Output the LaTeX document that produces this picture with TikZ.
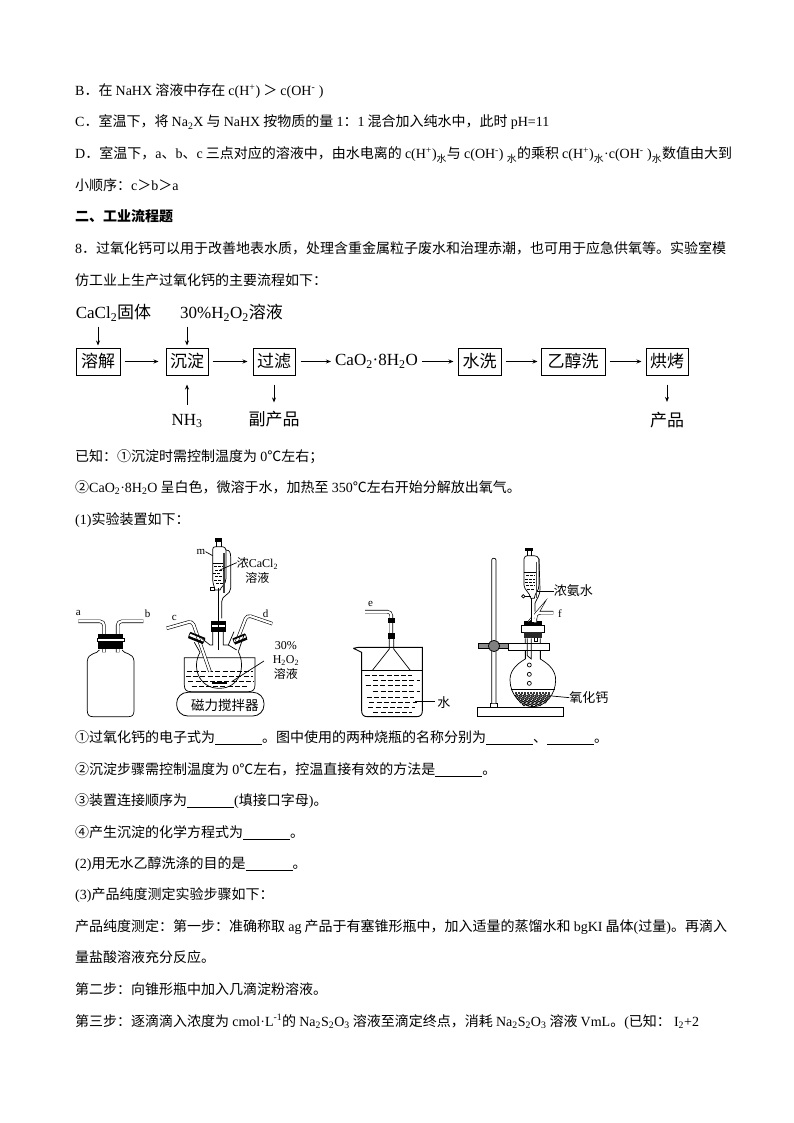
\documentclass[tikz,border=0pt]{standalone}
\usepackage{fontspec}
\setmainfont{Noto Sans CJK SC}
\newfontfamily\latf{Liberation Serif}
\newcommand\ltn[1]{{\latf #1}}
\newcommand\dn[1]{\textsubscript{\latf #1}}
\newcommand\up[1]{\textsuperscript{\latf #1}}
\newcommand\blank[1]{\rule[-2.5pt]{#1pt}{0.7pt}}
\usetikzlibrary{arrows.meta,calc}
\tikzset{
 txt/.style={anchor=base west,inner sep=0pt,font=\fontsize{14}{14}\selectfont},
 boxn/.style={draw,line width=1pt,inner sep=0pt,minimum height=27pt,font=\fontsize{17}{17}\selectfont},
 lab/.style={inner sep=0pt,font=\fontsize{17}{17}\selectfont},
 flow/.style={-{Stealth[length=5pt,width=4pt]},line width=0.8pt},
 small/.style={inner sep=0pt,font=\fontsize{12}{13}\selectfont,align=center},
 tiny/.style={inner sep=0pt,font=\latf\fontsize{11}{11}\selectfont},
 tube/.style={draw=black,double=white,double distance=2.2pt,line width=0.6pt,rounded corners=4pt},
 thin line/.style={line width=0.7pt},
 water/.style={dash pattern=on 5pt off 2.2pt,line width=0.6pt},
}
\begin{document}
\begin{tikzpicture}[x=1pt,y=-1pt]
\useasboundingbox (0,0) rectangle (794,1123);
\fill[white] (0,0) rectangle (794,1123);
% ---- text
\node[txt] (t1) at (75,96) {\ltn{B}．在 \ltn{NaHX} 溶液中存在 \ltn{c(H\up{+})} ＞ \ltn{c(OH\up{-} )}};
\node[txt] (t2) at (75,127) {\ltn{C}．室温下，将 \ltn{Na\dn{2}X} 与 \ltn{NaHX} 按物质的量 \ltn{1}：\ltn{1} 混合加入纯水中，此时 \ltn{pH=11}};
\node[txt] (t3) at (75,159) {\ltn{D}．室温下，\ltn{a}、\ltn{b}、\ltn{c} 三点对应的溶液中，由水电离的 \ltn{c(H\up{+})}\textsubscript{水}与 \ltn{c(OH\up{-})} \textsubscript{水}的乘积 \ltn{c(H\up{+})}\textsubscript{水}\ltn{·c(OH\up{-} )}\textsubscript{水}数值由大到};
\node[txt] (t4) at (75,191) {小顺序：\ltn{c}＞\ltn{b}＞\ltn{a}};
\node[txt,font=\fontsize{14}{14}\selectfont\bfseries] (t5) at (75,222) {二、工业流程题};
\node[txt] (t6) at (75,254) {\ltn{8}．过氧化钙可以用于改善地表水质，处理含重金属粒子废水和治理赤潮，也可用于应急供氧等。实验室模};
\node[txt] (t7) at (75,285) {仿工业上生产过氧化钙的主要流程如下：};
\node[txt] (t8) at (75,461) {已知：①沉淀时需控制温度为 \ltn{0}℃左右；};
\node[txt] (t9) at (75,492) {②\ltn{CaO\dn{2}·8H\dn{2}O} 呈白色，微溶于水，加热至 \ltn{350}℃左右开始分解放出氧气。};
\node[txt] (t10) at (75,524) {\ltn{(1)}实验装置如下：};
\node[txt] (t11) at (75,742) {①过氧化钙的电子式为\blank{47}。图中使用的两种烧瓶的名称分别为\blank{47}、\blank{47}。};
\node[txt] (t12) at (75,774) {②沉淀步骤需控制温度为 \ltn{0}℃左右，控温直接有效的方法是\blank{47}。};
\node[txt] (t13) at (75,805) {③装置连接顺序为\blank{47}\ltn{(}填接口字母\ltn{)}。};
\node[txt] (t14) at (75,837) {④产生沉淀的化学方程式为\blank{47}。};
\node[txt] (t15) at (75,868) {\ltn{(2)}用无水乙醇洗涤的目的是\blank{47}。};
\node[txt] (t16) at (75,899) {\ltn{(3)}产品纯度测定实验步骤如下：};
\node[txt] (t17) at (75,931) {产品纯度测定：第一步：准确称取 \ltn{ag} 产品于有塞锥形瓶中，加入适量的蒸馏水和 \ltn{bgKI} 晶体\ltn{(}过量\ltn{)}。再滴入};
\node[txt] (t18) at (75,962) {量盐酸溶液充分反应。};
\node[txt] (t19) at (75,994) {第二步：向锥形瓶中加入几滴淀粉溶液。};
\node[txt] (t20) at (75,1026) {第三步：逐滴滴入浓度为 \ltn{cmol·L\up{-1}}的 \ltn{Na\dn{2}S\dn{2}O\dn{3}} 溶液至滴定终点，消耗 \ltn{Na\dn{2}S\dn{2}O\dn{3}} 溶液 \ltn{VmL}。\ltn{(}已知： \ltn{I\dn{2}+2}};
% ---- flow chart
\node[boxn,minimum width=44pt] (rj) at (98,361.5) {溶解};
\node[boxn,minimum width=42pt] (cd) at (187,361.5) {沉淀};
\node[boxn,minimum width=42pt] (gl) at (274,361.5) {过滤};
\node[lab] (cao) at (376.5,361.5) {\ltn{CaO\dn{2}·8H\dn{2}O}};
\node[boxn,minimum width=43pt] (sx) at (479.5,361.5) {水洗};
\node[boxn,minimum width=64pt] (cx) at (573,361.5) {乙醇洗};
\node[boxn,minimum width=42pt] (hk) at (667,361.5) {烘烤};
\node[lab] (cacl) at (113.5,313) {\ltn{CaCl\dn{2}}固体};
\node[lab] (h2o2) at (231.5,313) {\ltn{30\%H\dn{2}O\dn{2}}溶液};
\node[lab] (nh3) at (187,421) {\ltn{NH\dn{3}}};
\node[lab] (fcp) at (274,419.5) {副产品};
\node[lab] (cp) at (667,420) {产品};
\draw[flow,shorten <=4pt,shorten >=7pt] (rj) -- (cd);
\draw[flow,shorten <=4pt,shorten >=5pt] (cd) -- (gl);
\draw[flow,shorten <=5pt,shorten >=4pt] (gl) -- (cao);
\draw[flow,shorten <=4pt,shorten >=4pt] (cao) -- (sx);
\draw[flow,shorten <=4pt,shorten >=3pt] (sx) -- (cx);
\draw[flow,shorten <=4pt,shorten >=4pt] (cx) -- (hk);
\draw[flow,shorten <=5pt,shorten >=2pt] (cacl.south -| rj.north) -- (rj.north);
\draw[flow,shorten <=5pt,shorten >=2pt] (h2o2.south -| cd.north) -- (cd.north);
\draw[flow,shorten <=9pt,shorten >=9pt] (nh3.north) -- (cd.south);
\draw[flow,shorten <=9pt,shorten >=9pt] (gl.south) -- (fcp.north);
\draw[flow,shorten <=9pt,shorten >=10pt] (hk.south) -- (cp.north);
% ---- apparatus, left part (zoom coordinates)
\begin{scope}[shift={(60,535)},x=0.3333pt,y=-0.3333pt]
 % gas bottle
 \draw[thin line] (118,345) .. controls (112,358) and (84,352) .. (82,378) -- (82,528) .. controls (82,540) and (88,545) .. (98,545) -- (206,545) .. controls (216,545) and (222,540) .. (222,528) -- (222,378) .. controls (220,352) and (192,358) .. (186,345);
 \draw[tube] (55,259) -- (132,259) -- (132,352);
 \draw[tube] (250,259) -- (173,259) -- (173,352);
 \fill[black] (115,297) rectangle (190,310);
 \fill[black] (115,318) rectangle (190,342);
 \draw[thin line,fill=white] (112,309) rectangle (192,319);
 \node[tiny] (la) at (55,233) {a};
 \node[tiny] (lb) at (263,237) {b};
 % water bath
 \draw[thin line] (373,368) -- (585,368) -- (585,450) .. controls (585,465) and (578,470) .. (565,470) -- (393,470) .. controls (380,470) and (373,465) .. (373,450) -- cycle;
 \foreach \yy/\xa/\xb in {410/380/578,425/378/580,440/385/580,455/395/560}{
   \draw[water] (\xa,\yy) -- (\xb,\yy);}
 % three neck flask
 \draw[thin line] (420,352) .. controls (395,395) and (415,460) .. (478,460) .. controls (540,460) and (558,395) .. (535,350);
 \draw[thin line] (403,322) -- (420,352);
 \draw[thin line] (425,310) -- (450,330) -- (458,330) -- (458,290);
 \draw[thin line] (490,290) -- (490,330) -- (505,330) -- (522,290);
 \draw[thin line] (552,300) -- (535,350);
 \draw[thin line] (505,330) -- (530,345);
 % tubes
 \draw[tube] (320,280) -- (397,258) -- (450,410);
 \draw[tube] (637,266) -- (561,240) -- (530,320);
 \draw[tube] (472,160) -- (472,345);
 % stoppers
 \begin{scope}[shift={(410,309)},rotate=-22]
  \fill[black] (-24,-10) rectangle (24,-6);
  \fill[black] (-24,4) rectangle (24,10);
  \draw[thin line] (-24,-6) rectangle (24,4);
 \end{scope}
 \begin{scope}[shift={(540,312)},rotate=22]
  \fill[black] (-20,-10) rectangle (20,-6);
  \fill[black] (-20,4) rectangle (20,10);
  \draw[thin line] (-20,-6) rectangle (20,4);
 \end{scope}
 \fill[black] (453,258) rectangle (497,268);
 \fill[black] (453,278) rectangle (497,290);
 \draw[thin line] (453,268) rectangle (497,278);
 % stir bar
 \fill[black] (456,440) rectangle (500,448);
 % stirrer
 \draw[line width=0.8pt,rounded corners=11pt] (350,472) rectangle (612,543);
 \node[lab,font=\fontsize{13.5}{14}\selectfont] (stir) at (495,511) {磁力搅拌器};
 % dropping funnel
 \fill[black] (465,8) rectangle (487,20);
 \draw[thin line] (470,20) -- (470,35);
 \draw[thin line] (483,20) -- (483,35);
 \draw[thin line] (458,45) .. controls (458,35) and (465,35) .. (470,35) -- (483,35) .. controls (495,35) and (497,40) .. (498,45) -- (498,130) .. controls (498,150) and (482,155) .. (480,165) -- (465,165) .. controls (462,150) and (458,145) .. (458,130) -- cycle;
 \draw[line width=2.2pt,black!75] (491,55) -- (491,175);
 \draw[thin line] (498,45) .. controls (510,45) and (512,55) .. (512,65) -- (512,160) .. controls (512,180) and (485,180) .. (485,200) -- (485,250);
 \draw[thin line] (458,85) -- (490,85);
 \foreach \yy/\xa/\xb in {95/462/488,105/465/490,115/460/482,125/466/490,135/462/484,145/468/488}{
   \draw[water,dash pattern=on 3pt off 1pt] (\xa,\yy) -- (\xb,\yy);}
 \draw[thin line,fill=white] (452,157) rectangle (462,167);
 \node[tiny] (lm) at (423,50) {m};
 \draw[thin line] (lm.east) -- (458,62);
 \node[small,anchor=north west] (lcacl) at (530,68) {浓\ltn{CaCl\dn{2}}\\[2pt]\hspace*{0pt}溶液};
 \draw[thin line] ($(lcacl.north west)+(0,15)$) -- (480,105);
 \node[tiny] (lc) at (343,250) {c};
 \node[tiny] (ld) at (617,235) {d};
 \node[small,anchor=north] (lh) at (678,318) {\ltn{30\%}\\[1.5pt]\ltn{H\dn{2}O\dn{2}}\\[1.5pt]溶液};
 \draw[thin line] (612,378) -- (515,440);
\end{scope}
% ---- apparatus, right part
\begin{scope}[shift={(340,535)},x=0.3333pt,y=-0.3333pt]
 % beaker
 \draw[line width=0.9pt] (40,340) -- (65,352) -- (65,528) .. controls (65,540) and (72,545) .. (82,545) -- (230,545) .. controls (240,545) and (247,540) .. (247,528) -- (247,337) -- (55,337) -- (40,340);
 \draw[thin line] (65,405) -- (247,405);
 \foreach \yy/\xa/\xb in {420/75/215,437/100/240,452/78/218,468/100/240,487/80/222,502/88/230,518/85/225,533/100/215}{
   \draw[water] (\xa,\yy) -- (\xb,\yy);}
 % funnel and tube
 \draw[thin line] (98,405) -- (148,342) -- (148,310);
 \draw[thin line] (210,405) -- (161,342) -- (161,310);
 \draw[tube] (75,230) -- (154,230) -- (154,300);
 \fill[black] (144,248) rectangle (165,263);
 \fill[black] (144,295) rectangle (165,311);
 \node[tiny] (le) at (92,208) {e};
 \node[small,font=\fontsize{13}{13}\selectfont] (lw) at (312,503) {水};
 \draw[thin line] (225,500) -- (285,500);
 % stand
 \draw[line width=0.9pt] (413,516) rectangle (670,545);
 \draw[thin line,fill=white] (450,505) rectangle (473,516);
 \draw[thin line,fill=white] (455,505) -- (455,75) .. controls (455,68) and (468,68) .. (468,75) -- (468,505);
 \draw[thin line,fill=black!45] (415,326) rectangle (450,340);
 \draw[thin line,fill=black!45] (475,326) rectangle (506,340);
 \draw[thin line,fill=black!50] (462,333) circle (17);
 % flask
 \draw[thin line] (556,310) -- (556,372) .. controls (525,390) and (510,410) .. (510,435) .. controls (510,480) and (545,515) .. (579,515) .. controls (615,515) and (647,480) .. (647,435) .. controls (647,410) and (632,390) .. (601,372) -- (601,310);
 \draw[thin line,fill=white] (505,325) rectangle (627,345);
 \draw[thin line] (556,345) -- (556,372);
 \draw[thin line] (601,345) -- (601,372);
 \draw[thin line] (512,462) -- (645,462);
 \foreach \xx/\yy in {530/482,542/482,554/482,566/482,578/482,590/482,602/482,614/482,626/482,
  536/491,548/491,560/491,572/491,584/491,596/491,608/491,620/491,
  543/500,555/500,567/500,579/500,591/500,603/500,615/500,
  552/508,564/508,576/508,588/508,600/508}{
   \draw[line width=0.5pt,fill=black!60] (\xx,\yy) circle (5);}
 \draw[line width=1.2pt,black!80,dash pattern=on 2pt off 1pt] (526,474) -- (632,474);
 \foreach \yy in {390,418,445}{\draw[thin line,fill=white] (568,\yy) circle (6);}
 % tube stem in flask
 \draw[thin line] (562,310) -- (562,362) -- (574,372) -- (574,310);
 \draw[thin line] (582,310) -- (582,320) -- (592,320) -- (592,310);
 % stopper
 \fill[black] (552,258) rectangle (605,272);
 \draw[line width=0.9pt,fill=white] (545,272) rectangle (612,291);
 \fill[black!85] (552,291) rectangle (605,310);
 % tube f
 \draw[tube] (640,233) -- (592,233) -- (586,240) -- (586,262);
 \draw[tube] (578,190) -- (578,260);
 % funnel
 \fill[black] (556,38) rectangle (580,48);
 \draw[thin line] (562,48) -- (562,62);
 \draw[thin line] (574,48) -- (574,62);
 \draw[thin line] (552,72) .. controls (552,65) and (558,62) .. (562,62) -- (574,62) .. controls (590,62) and (596,65) .. (597,72) -- (597,150) .. controls (597,170) and (584,172) .. (583,190) -- (572,190) .. controls (570,172) and (552,165) .. (552,150) -- cycle;
 \draw[line width=1.6pt,black!70] (590,80) -- (590,190);
 \draw[thin line] (597,72) -- (600,160) .. controls (600,185) and (590,190) .. (585,205) -- (585,230);
 \draw[thin line] (552,112) -- (588,112);
 \foreach \yy/\xa/\xb in {122/558/586,132/554/584,142/556/586,152/558/584,162/562/584}{
   \draw[water,dash pattern=on 3pt off 1pt] (\xa,\yy) -- (\xb,\yy);}
 \draw[thin line,fill=white] (550,184) circle (5);
 \draw[thin line] (555,184) -- (572,184);
 \node[tiny] (lf) at (660,237) {f};
 \node[small,font=\fontsize{13}{13}\selectfont] (lam) at (700,168) {浓氨水};
 \draw[thin line] (590,168) -- (lam.west);
 \node[small,font=\fontsize{13}{13}\selectfont] (lox) at (747,488) {氧化钙};
 \draw[thin line] (635,483) -- (lox.west);
\end{scope}
\end{tikzpicture}
\end{document}
